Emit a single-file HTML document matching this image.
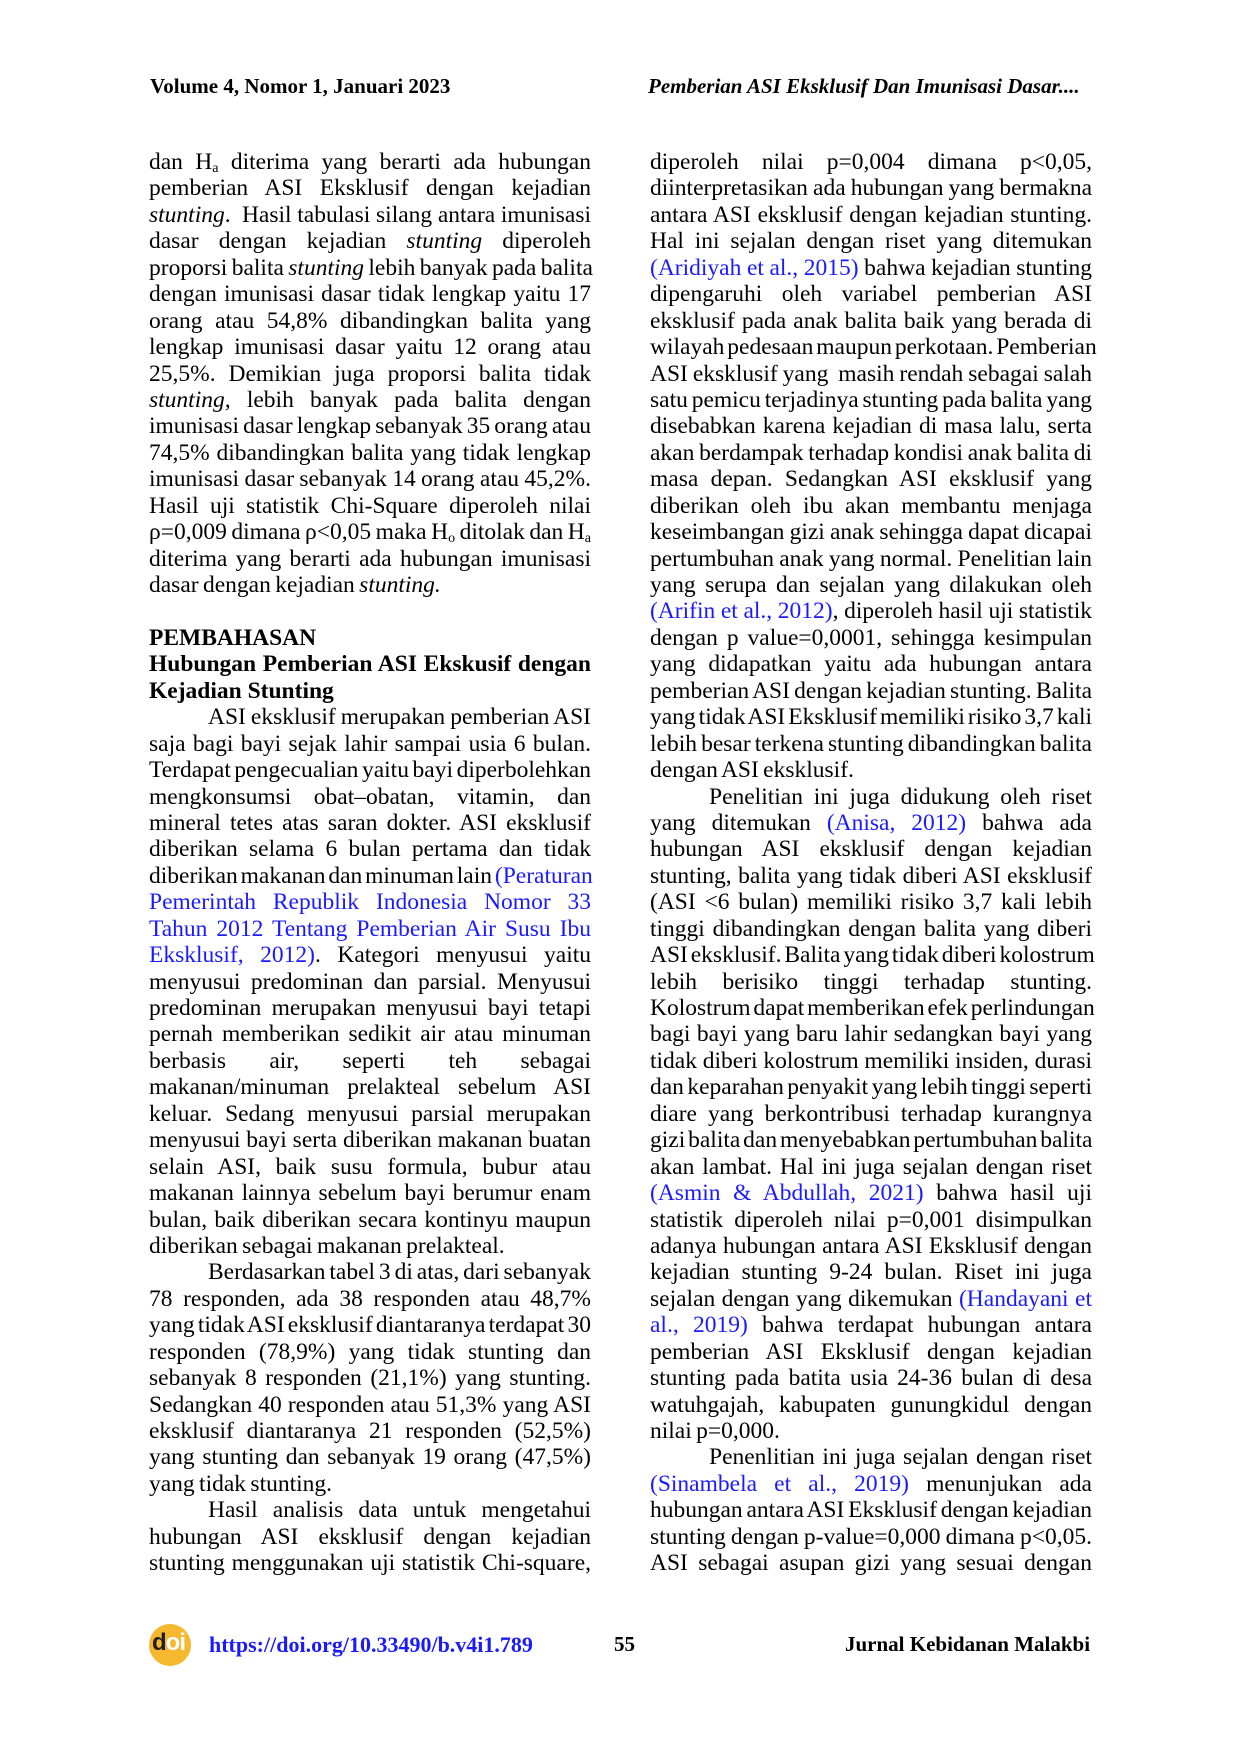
<!DOCTYPE html>
<html><head><meta charset="utf-8">
<style>
html,body{margin:0;padding:0;background:#fff;}
body{width:1240px;height:1754px;position:relative;overflow:hidden;font-family:"Liberation Serif",serif;color:#000;}
.hdr{position:absolute;top:74px;font-size:21px;font-weight:bold;white-space:nowrap;}
.col{position:absolute;top:149px;width:442px;font-size:23.5px;line-height:26.45px;word-spacing:-1.5px;}
.col div{white-space:nowrap;height:26.45px;text-align:justify;text-align-last:justify;}
.col div.l{text-align-last:left;}
.col div.in{padding-left:59px;}
.col div.t{word-spacing:-3px;}
.b{font-weight:bold;word-spacing:0;}
.lk{color:#1a1aff;}
sub{font-size:14px;vertical-align:-3px;line-height:0;}
.ft{position:absolute;top:1632px;font-size:21px;font-weight:bold;white-space:nowrap;}
</style></head><body>
<div class="hdr" style="left:150px;">Volume 4, Nomor 1, Januari 2023</div>
<div class="hdr" style="left:648px;font-style:italic;">Pemberian ASI Eksklusif Dan Imunisasi Dasar....</div>

<div class="col" style="left:149px;">
<div>dan H<sub>a</sub> diterima yang berarti ada hubungan</div>
<div>pemberian ASI Eksklusif dengan kejadian</div>
<div><i>stunting</i>. &nbsp;Hasil tabulasi silang antara imunisasi</div>
<div>dasar dengan kejadian <i>stunting</i> diperoleh</div>
<div>proporsi balita <i>stunting</i> lebih banyak pada balita</div>
<div>dengan imunisasi dasar tidak lengkap yaitu 17</div>
<div>orang atau 54,8% dibandingkan balita yang</div>
<div>lengkap imunisasi dasar yaitu 12 orang atau</div>
<div>25,5%. Demikian juga proporsi balita tidak</div>
<div><i>stunting,</i> lebih banyak pada balita dengan</div>
<div class="t">imunisasi dasar lengkap sebanyak 35 orang atau</div>
<div>74,5% dibandingkan balita yang tidak lengkap</div>
<div>imunisasi dasar sebanyak 14 orang atau 45,2%.</div>
<div>Hasil uji statistik Chi-Square diperoleh nilai</div>
<div class="t">ρ=0,009 dimana ρ&lt;0,05 maka H<sub>o</sub> ditolak dan H<sub>a</sub></div>
<div>diterima yang berarti ada hubungan imunisasi</div>
<div class="l">dasar dengan kejadian <i>stunting.</i></div>
<div class="l"></div>
<div class="l b">PEMBAHASAN</div>
<div class="b">Hubungan Pemberian ASI Ekskusif dengan</div>
<div class="l b">Kejadian Stunting</div>
<div class="in">ASI eksklusif merupakan pemberian ASI</div>
<div>saja bagi bayi sejak lahir sampai usia 6 bulan.</div>
<div class="t">Terdapat pengecualian yaitu bayi diperbolehkan</div>
<div>mengkonsumsi obat–obatan, vitamin, dan</div>
<div>mineral tetes atas saran dokter. ASI eksklusif</div>
<div>diberikan selama 6 bulan pertama dan tidak</div>
<div class="t">diberikan makanan dan minuman lain <span class="lk">(Peraturan</span></div>
<div class="lk">Pemerintah Republik Indonesia Nomor 33</div>
<div class="lk">Tahun 2012 Tentang Pemberian Air Susu Ibu</div>
<div><span class="lk">Eksklusif, 2012)</span>. Kategori menyusui yaitu</div>
<div>menyusui predominan dan parsial. Menyusui</div>
<div>predominan merupakan menyusui bayi tetapi</div>
<div>pernah memberikan sedikit air atau minuman</div>
<div>berbasis air, seperti teh sebagai</div>
<div>makanan/minuman prelakteal sebelum ASI</div>
<div>keluar. Sedang menyusui parsial merupakan</div>
<div>menyusui bayi serta diberikan makanan buatan</div>
<div>selain ASI, baik susu formula, bubur atau</div>
<div>makanan lainnya sebelum bayi berumur enam</div>
<div>bulan, baik diberikan secara kontinyu maupun</div>
<div class="l">diberikan sebagai makanan prelakteal.</div>
<div class="in t">Berdasarkan tabel 3 di atas, dari sebanyak</div>
<div>78 responden, ada 38 responden atau 48,7%</div>
<div class="t">yang tidak ASI eksklusif diantaranya terdapat 30</div>
<div>responden (78,9%) yang tidak stunting dan</div>
<div>sebanyak 8 responden (21,1%) yang stunting.</div>
<div>Sedangkan 40 responden atau 51,3% yang ASI</div>
<div>eksklusif diantaranya 21 responden (52,5%)</div>
<div>yang stunting dan sebanyak 19 orang (47,5%)</div>
<div class="l">yang tidak stunting.</div>
<div class="in">Hasil analisis data untuk mengetahui</div>
<div>hubungan ASI eksklusif dengan kejadian</div>
<div>stunting menggunakan uji statistik Chi-square,</div>
</div>

<div class="col" style="left:650px;">
<div>diperoleh nilai p=0,004 dimana p&lt;0,05,</div>
<div>diinterpretasikan ada hubungan yang bermakna</div>
<div>antara ASI eksklusif dengan kejadian stunting.</div>
<div>Hal ini sejalan dengan riset yang ditemukan</div>
<div><span class="lk">(Aridiyah et al., 2015)</span> bahwa kejadian stunting</div>
<div>dipengaruhi oleh variabel pemberian ASI</div>
<div>eksklusif pada anak balita baik yang berada di</div>
<div class="t">wilayah pedesaan maupun perkotaan. Pemberian</div>
<div>ASI eksklusif yang &nbsp;masih rendah sebagai salah</div>
<div class="t">satu pemicu terjadinya stunting pada balita yang</div>
<div>disebabkan karena kejadian di masa lalu, serta</div>
<div>akan berdampak terhadap kondisi anak balita di</div>
<div>masa depan. Sedangkan ASI eksklusif yang</div>
<div>diberikan oleh ibu akan membantu menjaga</div>
<div>keseimbangan gizi anak sehingga dapat dicapai</div>
<div>pertumbuhan anak yang normal. Penelitian lain</div>
<div>yang serupa dan sejalan yang dilakukan oleh</div>
<div><span class="lk">(Arifin et al., 2012)</span>, diperoleh hasil uji statistik</div>
<div>dengan p value=0,0001, sehingga kesimpulan</div>
<div>yang didapatkan yaitu ada hubungan antara</div>
<div class="t">pemberian ASI dengan kejadian stunting. Balita</div>
<div class="t">yang tidak ASI Eksklusif memiliki risiko 3,7 kali</div>
<div class="t">lebih besar terkena stunting dibandingkan balita</div>
<div class="l">dengan ASI eksklusif.</div>
<div class="in">Penelitian ini juga didukung oleh riset</div>
<div>yang ditemukan <span class="lk">(Anisa, 2012)</span> bahwa ada</div>
<div>hubungan ASI eksklusif dengan kejadian</div>
<div>stunting, balita yang tidak diberi ASI eksklusif</div>
<div>(ASI &lt;6 bulan) memiliki risiko 3,7 kali lebih</div>
<div>tinggi dibandingkan dengan balita yang diberi</div>
<div class="t">ASI eksklusif. Balita yang tidak diberi kolostrum</div>
<div>lebih berisiko tinggi terhadap stunting.</div>
<div class="t">Kolostrum dapat memberikan efek perlindungan</div>
<div>bagi bayi yang baru lahir sedangkan bayi yang</div>
<div>tidak diberi kolostrum memiliki insiden, durasi</div>
<div class="t">dan keparahan penyakit yang lebih tinggi seperti</div>
<div>diare yang berkontribusi terhadap kurangnya</div>
<div class="t">gizi balita dan menyebabkan pertumbuhan balita</div>
<div>akan lambat. Hal ini juga sejalan dengan riset</div>
<div><span class="lk">(Asmin &amp; Abdullah, 2021)</span> bahwa hasil uji</div>
<div>statistik diperoleh nilai p=0,001 disimpulkan</div>
<div>adanya hubungan antara ASI Eksklusif dengan</div>
<div>kejadian stunting 9-24 bulan. Riset ini juga</div>
<div>sejalan dengan yang dikemukan <span class="lk">(Handayani et</span></div>
<div><span class="lk">al., 2019)</span> bahwa terdapat hubungan antara</div>
<div>pemberian ASI Eksklusif dengan kejadian</div>
<div>stunting pada batita usia 24-36 bulan di desa</div>
<div>watuhgajah, kabupaten gunungkidul dengan</div>
<div class="l">nilai p=0,000.</div>
<div class="in">Penenlitian ini juga sejalan dengan riset</div>
<div><span class="lk">(Sinambela et al., 2019)</span> menunjukan ada</div>
<div class="t">hubungan antara ASI Eksklusif dengan kejadian</div>
<div>stunting dengan p-value=0,000 dimana p&lt;0,05.</div>
<div>ASI sebagai asupan gizi yang sesuai dengan</div>
</div>

<div style="position:absolute;left:149px;top:1624px;width:42px;height:42px;border-radius:50%;background:#f5b82e;"></div>
<div style="position:absolute;left:152px;top:1629px;font-family:'Liberation Sans',sans-serif;font-weight:bold;font-size:24px;letter-spacing:-1px;"><span style="color:#231f20;">d</span><span style="color:#fff;">oi</span></div>
<div class="ft" style="left:209px;color:#1a1aff;font-size:22px;">https://doi.org/10.33490/b.v4i1.789</div>
<div class="ft" style="left:614px;">55</div>
<div class="ft" style="left:845px;">Jurnal Kebidanan Malakbi</div>
</body></html>
